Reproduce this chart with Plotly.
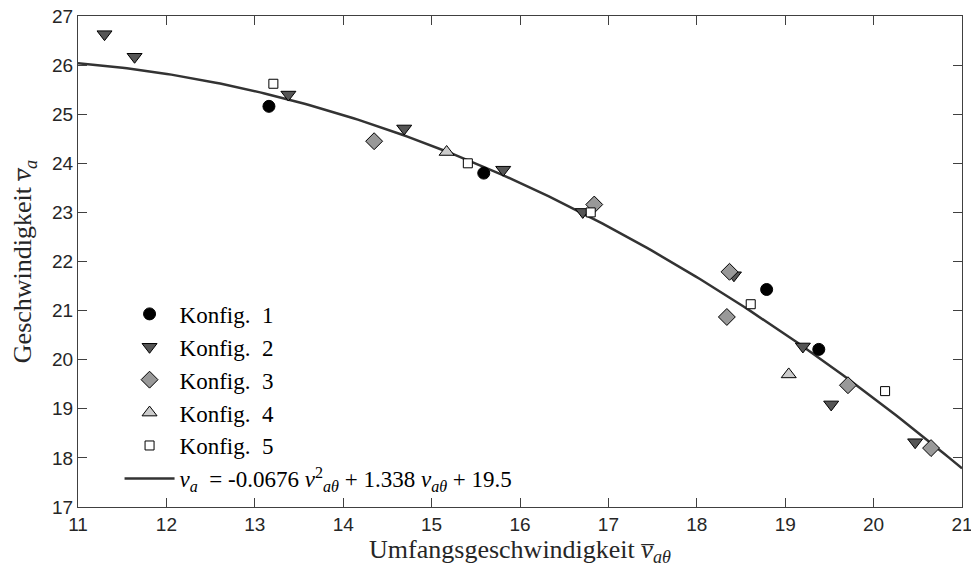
import numpy as np
import plotly.graph_objects as go

# Data
k1_x = [13.16, 15.59, 18.79, 19.38]
k1_y = [25.16, 23.80, 21.43, 20.21]

k2_x = [11.30, 11.64, 13.38, 14.69, 15.81, 16.71, 18.42, 19.20, 19.52, 20.47]
k2_y = [26.63, 26.17, 25.40, 24.71, 23.87, 23.01, 21.72, 20.27, 19.09, 18.32]

k3_x = [14.35, 16.84, 18.37, 18.34, 19.71, 20.65]
k3_y = [24.45, 23.16, 21.79, 20.87, 19.48, 18.20]

k4_x = [15.17, 19.04]
k4_y = [24.23, 19.70]

k5_x = [13.21, 15.41, 16.80, 18.61, 20.13]
k5_y = [25.62, 24.00, 23.00, 21.13, 19.36]

fit_a, fit_b, fit_c = -0.0676, 1.338, 19.5
x_ticks = [11, 12, 13, 14, 15, 16, 17, 18, 19, 20, 21]
y_ticks = [17, 18, 19, 20, 21, 22, 23, 24, 25, 26, 27]

fit_x = np.linspace(11, 21, 200)
fit_y = fit_a * fit_x**2 + fit_b * fit_x + fit_c

serif = "Liberation Serif, DejaVu Serif, serif"
sans = "Liberation Sans, Arial, sans-serif"

fig = go.Figure()
edge = dict(color="black", width=1)
fig.add_trace(go.Scatter(x=fit_x, y=fit_y, mode="lines", legendrank=1006,
                         name="<i>v</i><sub><i>a</i></sub>  = -0.0676 <i>v</i><sup>2</sup><sub><i>aθ</i></sub> + 1.338 <i>v</i><sub><i>aθ</i></sub> + 19.5",
                         line=dict(color="#333333", width=2.5)))
fig.add_trace(go.Scatter(x=k1_x, y=k1_y, mode="markers", name="Konfig.  1", legendrank=1001,
                         marker=dict(symbol="circle", size=12, color="black", line=edge)))
fig.add_trace(go.Scatter(x=k2_x, y=k2_y, mode="markers", name="Konfig.  2", legendrank=1002,
                         marker=dict(symbol="triangle-down", size=13, color="#555555", line=edge)))
fig.add_trace(go.Scatter(x=k3_x, y=k3_y, mode="markers", name="Konfig.  3", legendrank=1003,
                         marker=dict(symbol="diamond", size=13, color="#999999", line=edge)))
fig.add_trace(go.Scatter(x=k4_x, y=k4_y, mode="markers", name="Konfig.  4", legendrank=1004,
                         marker=dict(symbol="triangle-up", size=13, color="#cccccc", line=edge)))
fig.add_trace(go.Scatter(x=k5_x, y=k5_y, mode="markers", name="Konfig.  5", legendrank=1005,
                         marker=dict(symbol="square", size=9, color="white", line=edge)))

axis_common = dict(
    showline=True, linecolor="#404040", linewidth=1, mirror="ticks",
    ticks="inside", ticklen=9, tickwidth=1, tickcolor="#404040",
    showgrid=False, zeroline=False, ticklabeloverflow="allow", automargin=False,
    tickfont=dict(family=sans, size=19, color="#262626"),
)

fig.update_layout(
    width=971, height=574,
    margin=dict(l=78, r=9, t=16, b=67),
    paper_bgcolor="white", plot_bgcolor="white",
    xaxis=dict(range=[11, 21], tickvals=x_ticks, ticktext=[str(t) for t in x_ticks],
               title=dict(text="Umfangsgeschwindigkeit <i>v̅</i><sub><i>aθ</i></sub>",
                          font=dict(family=serif, size=26, color="#262626"), standoff=4),
               **axis_common),
    yaxis=dict(range=[17, 27], tickvals=y_ticks, ticktext=[str(t) for t in y_ticks],
               title=dict(text="Geschwindigkeit <i>v̅</i><sub><i>a</i></sub>",
                          font=dict(family=serif, size=26, color="#262626"), standoff=12),
               **axis_common),
    legend=dict(x=0.047, y=0.437, xanchor="left", yanchor="top",
                bgcolor="rgba(0,0,0,0)", borderwidth=0,
                font=dict(family=serif, size=23, color="black"),
                itemwidth=50, traceorder="normal"),
    showlegend=True,
)

fig.write_html("out.html")
